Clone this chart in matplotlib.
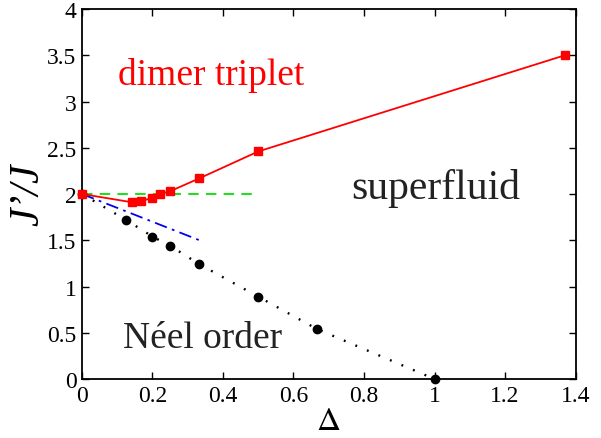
import matplotlib
matplotlib.use("Agg")
import matplotlib.pyplot as plt

plt.rcParams['font.family'] = ['Liberation Serif', 'DejaVu Serif']
plt.rcParams['mathtext.fontset'] = 'stix'

# triplet boundary (red squares)
trip_x = [0.0, 1/7, 1/6, 0.2, 2/9, 0.25, 1/3, 0.5, 1.37]
trip_y = [2.0, 1.91, 1.92, 1.96, 2.0, 2.03, 2.17, 2.46, 3.5]

# Neel boundary (black dots)
neel_x = [0.0, 0.125, 0.2, 0.25, 1/3, 0.5, 2/3, 1.0]
neel_y = [2.0, 1.72, 1.54, 1.44, 1.24, 0.89, 0.54, 0.0]

# perturbative guides
flat_x = [0.0, 0.5]
flat_y = [2.0, 2.0]
slope_x = [0.0, 1/3]
slope_y = [2.0, 1.5]

xticks = [0, 0.2, 0.4, 0.6, 0.8, 1, 1.2, 1.4]
xtick_labels = ["0", "0.2", "0.4", "0.6", "0.8", "1", "1.2", "1.4"]
yticks = [0, 0.5, 1, 1.5, 2, 2.5, 3, 3.5, 4]
ytick_labels = ["0", "0.5", "1", "1.5", "2", "2.5", "3", "3.5", "4"]

fig = plt.figure(figsize=(6.01, 4.39), dpi=100)
ax = fig.add_axes([0.1364, 0.1344, 0.8212, 0.8428])

ax.plot(flat_x, flat_y, color='#22dd22', lw=1.5, dashes=(5, 3.5), zorder=2)
ax.plot(slope_x, slope_y, color='#0000ee', lw=1.3, dashes=(7, 3, 1.5, 3), zorder=2)
ax.plot(neel_x, neel_y, color='black', lw=1.7, dashes=(0.8, 4.5),
        marker='o', ms=6, zorder=3, clip_on=False)
ax.plot(trip_x, trip_y, color='red', lw=1.3, marker='s', ms=5.5, zorder=4,
        clip_on=False)

ax.set_xlim(0, 1.4)
ax.set_ylim(0, 4)
ax.set_xticks(xticks)
ax.set_xticklabels(xtick_labels)
ax.set_yticks(yticks)
ax.set_yticklabels(ytick_labels)
ax.tick_params(direction='in', top=True, right=True, length=5, width=1,
               labelsize=17, pad=4)
for s in ax.spines.values():
    s.set_linewidth(1.3)

ax.set_xlabel(r'$\Delta$', fontsize=24, labelpad=0)
ax.set_ylabel('J’/J', fontsize=30, fontstyle='italic', labelpad=0)

ax.text(0.102, 3.19, 'dimer triplet', color='red', fontsize=27, va='baseline')
ax.text(0.765, 1.957, 'superfluid', color='#222222', fontsize=30, va='baseline')
ax.text(0.116, 0.346, 'Néel order', color='#222222', fontsize=27, va='baseline')

fig.savefig('out.png', dpi=100)
